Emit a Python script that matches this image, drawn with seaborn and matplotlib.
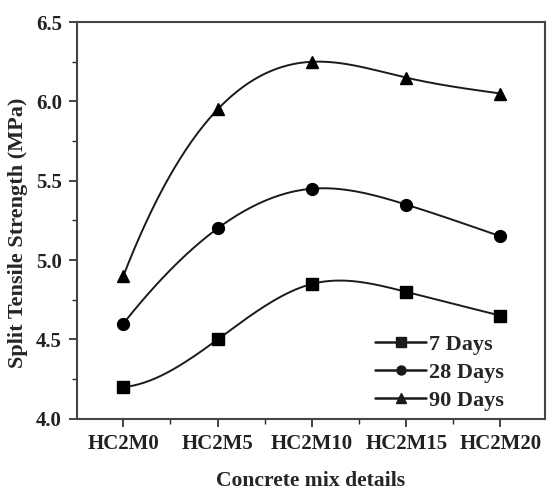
import numpy as np
import pandas as pd
import matplotlib
matplotlib.use("Agg")
import matplotlib.pyplot as plt
import seaborn as sns
from matplotlib.ticker import MultipleLocator, AutoMinorLocator, FormatStrFormatter

# data
mixes = ["HC2M0", "HC2M5", "HC2M10", "HC2M15", "HC2M20"]
days7 = [4.20, 4.50, 4.85, 4.80, 4.65]
days28 = [4.60, 5.20, 5.45, 5.35, 5.15]
days90 = [4.90, 5.95, 6.25, 6.15, 6.05]


def spline_line(y, n=200):
    # cubic spline through evenly spaced points, only for the smooth connecting line
    # left end not-a-knot, right end natural (looks closest to the original)
    y = np.asarray(y, float)
    k = len(y)
    A = np.zeros((k, k))
    r = np.zeros(k)
    A[0, :3] = [1, -2, 1]
    A[-1, -1] = 1
    for i in range(1, k - 1):
        A[i, i - 1:i + 2] = [1, 4, 1]
        r[i] = 6 * (y[i + 1] - 2 * y[i] + y[i - 1])
    M = np.linalg.solve(A, r)
    xs = np.linspace(0, k - 1, n)
    ys = np.empty_like(xs)
    for j, xv in enumerate(xs):
        i = min(int(np.floor(xv)), k - 2)
        t = xv - i
        ys[j] = (M[i] * (1 - t) ** 3 / 6 + M[i + 1] * t ** 3 / 6
                 + (y[i] - M[i] / 6) * (1 - t) + (y[i + 1] - M[i + 1] / 6) * t)
    return xs, ys


sns.set_style("ticks")
plt.rcParams["font.family"] = ["Liberation Serif", "DejaVu Serif"]
plt.rcParams["font.weight"] = "bold"

fig, ax = plt.subplots(figsize=(5.47, 4.91), dpi=100)
fig.subplots_adjust(left=0.141, right=0.996, top=0.955, bottom=0.147)

xpos = np.arange(len(mixes))
series = [("7 Days", days7, "s"), ("28 Days", days28, "o"), ("90 Days", days90, "^")]
handles = []
for label, vals, mk in series:
    xs, ys = spline_line(vals)
    sns.lineplot(x=xs, y=ys, ax=ax, color="#1a1a1a", lw=1.4, sort=False)
    df = pd.DataFrame({"x": xpos, "y": vals})
    ax.plot(df["x"], df["y"], linestyle="none", marker=mk, color="black", ms=8.5)
    h, = ax.plot([], [], color="#1a1a1a", lw=1.8, marker=mk, ms=6.5, label=label)
    handles.append(h)

ax.set_xlim(-0.49, 4.47)
ax.set_ylim(4.0, 6.5)
ax.set_xticks(xpos)
ax.set_xticklabels(mixes)
ax.xaxis.set_minor_locator(MultipleLocator(0.5))
ax.yaxis.set_major_locator(MultipleLocator(0.5))
ax.yaxis.set_minor_locator(AutoMinorLocator(2))
ax.yaxis.set_major_formatter(FormatStrFormatter("%.1f"))
ax.tick_params(which="major", direction="out", length=6, width=1.2, labelsize=15,
               colors="#222222", pad=5)
ax.tick_params(which="minor", direction="out", length=3.5, width=1.0)
for s in ax.spines.values():
    s.set_linewidth(1.5)
    s.set_color("#444444")

ax.set_xlabel("Concrete mix details", fontsize=15.6, fontweight="bold", labelpad=12)
ax.set_ylabel("Split Tensile Strength (MPa)", fontsize=16, fontweight="bold")
ax.yaxis.set_label_coords(-0.106, 0.468)

leg = ax.legend(handles=handles, loc="upper left", frameon=False, fontsize=16,
                handlelength=2.3, labelspacing=0.32, handletextpad=0.15,
                borderpad=0, borderaxespad=0, bbox_to_anchor=(0.637, 0.212))

fig.savefig("out.png", dpi=100)
